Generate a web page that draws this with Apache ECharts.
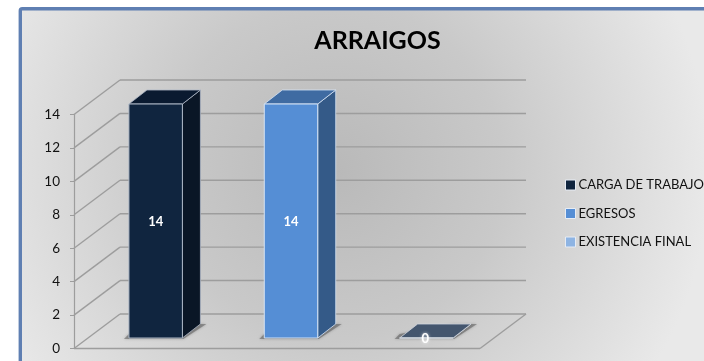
<!DOCTYPE html>
<html><head><meta charset="utf-8">
<style>html,body{margin:0;padding:0;background:#fff}#c{width:704px;height:361px}</style>
<script src="https://cdn.jsdelivr.net/npm/echarts@6/dist/echarts.min.js"></script>
</head><body><div id="c"></div>
<script>
const title = 'ARRAIGOS';
const categories = ['CARGA DE TRABAJO', 'EGRESOS', 'EXISTENCIA FINAL'];
const cargaValues = [14];
const egresosValues = [14];
const existenciaValues = [0];
const yTicks = [0, 2, 4, 6, 8, 10, 12, 14];

const FONT = 'Lato, "Open Sans", sans-serif';
const DX = 46, DY = 34.5;         // wall depth
const BDX = 18, BDY = 14;         // bar depth
const BOX = 14, BOY = -10.5;      // bar position on the floor
const palette = [
  {legend:'#10253f', front:'#10253f', side:'#0a1626', top:'#0a1a30', edge:'#aeb8c6'},
  {legend:'#558ed5', front:'#558ed5', side:'#345a88', top:'#3f6ba2', edge:'#d5e3f5'},
  {legend:'#8eb4e3', front:'#44566e', side:'#44566e', top:'#44566e', edge:'#d0d6de'}
];

function barRender(style) {
  return function (params, api) {
    const idx = api.value(0), val = api.value(1);
    const base = api.coord([idx, 0]), top = api.coord([idx, val]);
    const w = api.size([1, 0])[0] * 0.395;
    const cx = base[0] + BOX;
    const x0 = cx - w / 2, x1 = cx + w / 2;
    const yb = base[1] + BOY, yt = top[1] + BOY;
    const poly = (pts, fill, stroke, lw) => ({
      type: 'polygon', shape: {points: pts},
      style: {fill: fill, stroke: stroke, lineWidth: lw === undefined ? 1 : lw, lineJoin: 'round'}
    });
    const shadow = {
      type: 'polygon',
      shape: {points: [[x0 - 5, yb + 1], [x1 + 1, yb + 1], [x1 + BDX + 6, yb - BDY], [x1, yb - BDY], [x0, yb - 4]]},
      style: {fill: 'rgba(95,95,95,0.55)', shadowBlur: 3, shadowColor: 'rgba(70,70,70,0.6)'}
    };
    const children = [shadow];
    children.push(poly([[x1, yb], [x1 + BDX, yb - BDY], [x1 + BDX, yt - BDY], [x1, yt]], style.side, style.edge, 0.8));
    children.push(poly([[x0, yt], [x0 + BDX, yt - BDY], [x1 + BDX, yt - BDY], [x1, yt]], style.top, style.edge, 0.8));
    children.push({type: 'rect', shape: {x: x0, y: yt, width: w, height: yb - yt},
      style: {fill: style.front, stroke: style.edge, lineWidth: 1}});
    children.push({
      type: 'text', x: cx - (val === 0 ? 1 : 0), y: (yb + yt) / 2 + 1,
      style: {text: String(val), fill: '#fff', font: 'bold 13px ' + FONT, align: 'center', verticalAlign: 'middle',
        textShadowBlur: val === 0 ? 3 : 0, textShadowColor: 'rgba(255,255,255,0.8)'}
    });
    return {type: 'group', children: children};
  };
}

function wallRender(params, api) {
  const v = api.value(0);
  const p = api.coord([0, v]);
  const gridRight = params.coordSys.x + params.coordSys.width;
  const x = params.coordSys.x;
  const ls = {stroke: '#9d9d9d', lineWidth: 1.4};
  const line = (a, b, c, d) => ({type: 'line', shape: {x1: a, y1: b, x2: c, y2: d}, style: ls});
  const ch = [
    line(x, p[1], x + DX, p[1] - DY),
    line(x + DX, p[1] - DY, gridRight + DX, p[1] - DY)
  ];
  if (v === 0) {
    ch.push(line(gridRight, p[1], gridRight + DX, p[1] - DY));
    ch.push(line(x, p[1], gridRight, p[1]));
  }
  return {type: 'group', children: ch};
}

const series = [{
  type: 'custom', name: 'walls', silent: true, z: 1, clip: false,
  renderItem: wallRender, encode: {y: 0},
  data: yTicks.map(v => [v])
}];
[cargaValues, egresosValues, existenciaValues].forEach((vals, i) => {
  series.push({
    type: 'custom', name: categories[i], z: 3 + i, clip: false,
    renderItem: barRender(palette[i]),
    itemStyle: {color: palette[i].legend},
    encode: {x: 0, y: 1},
    data: vals.map(v => [i, v])
  });
});

const chart = echarts.init(document.getElementById('c'), null, {renderer: 'canvas', width: 704, height: 361});
chart.setOption({
  animation: false,
  backgroundColor: '#ffffff',
  textStyle: {fontFamily: FONT},
  graphic: [{
    type: 'rect', z: -10, silent: true,
    shape: {x: 20.3, y: 8.8, width: 760, height: 420, r: 2},
    style: {
      stroke: '#5f7fb2', lineWidth: 3.4,
      fill: {type: 'radial', x: 335, y: 170, r: 375, global: true,
        colorStops: [{offset: 0, color: '#b9b9b9'}, {offset: 0.45, color: '#c9c9c9'}, {offset: 1, color: '#e9e9e9'}]}
    }
  }],
  title: {
    text: title, left: 372.5, top: 23, textAlign: 'center',
    textStyle: {fontFamily: FONT, fontWeight: 'bold', fontSize: 25, color: '#000'}
  },
  legend: {
    orient: 'vertical', left: 560, top: 173.5, itemWidth: 10, itemHeight: 10, itemGap: 15.5,
    data: categories.map(n => ({name: n, icon: 'rect'})),
    itemStyle: {borderColor: '#e6ecf5', borderWidth: 1},
    textStyle: {fontFamily: FONT, fontSize: 13, color: '#111', padding: [0, 0, 0, -2]},
    selectedMode: false
  },
  tooltip: {show: false},
  grid: {left: 74, top: 114.5, width: 406, height: 234, containLabel: false},
  xAxis: {type: 'category', data: categories, axisLabel: {show: false}, axisTick: {show: false},
    axisLine: {show: false}, splitLine: {show: false}},
  yAxis: {
    type: 'value', min: 0, max: 14, interval: 2,
    axisLine: {show: true, onZero: false, lineStyle: {color: '#9d9d9d', width: 1.2}},
    axisTick: {show: true, length: 4, lineStyle: {color: '#9d9d9d'}},
    axisLabel: {color: '#111', fontSize: 13.5, fontFamily: FONT, margin: 14, padding: [2, 0, 0, 0]},
    splitLine: {show: false}
  },
  series: series
});
</script></body></html>
